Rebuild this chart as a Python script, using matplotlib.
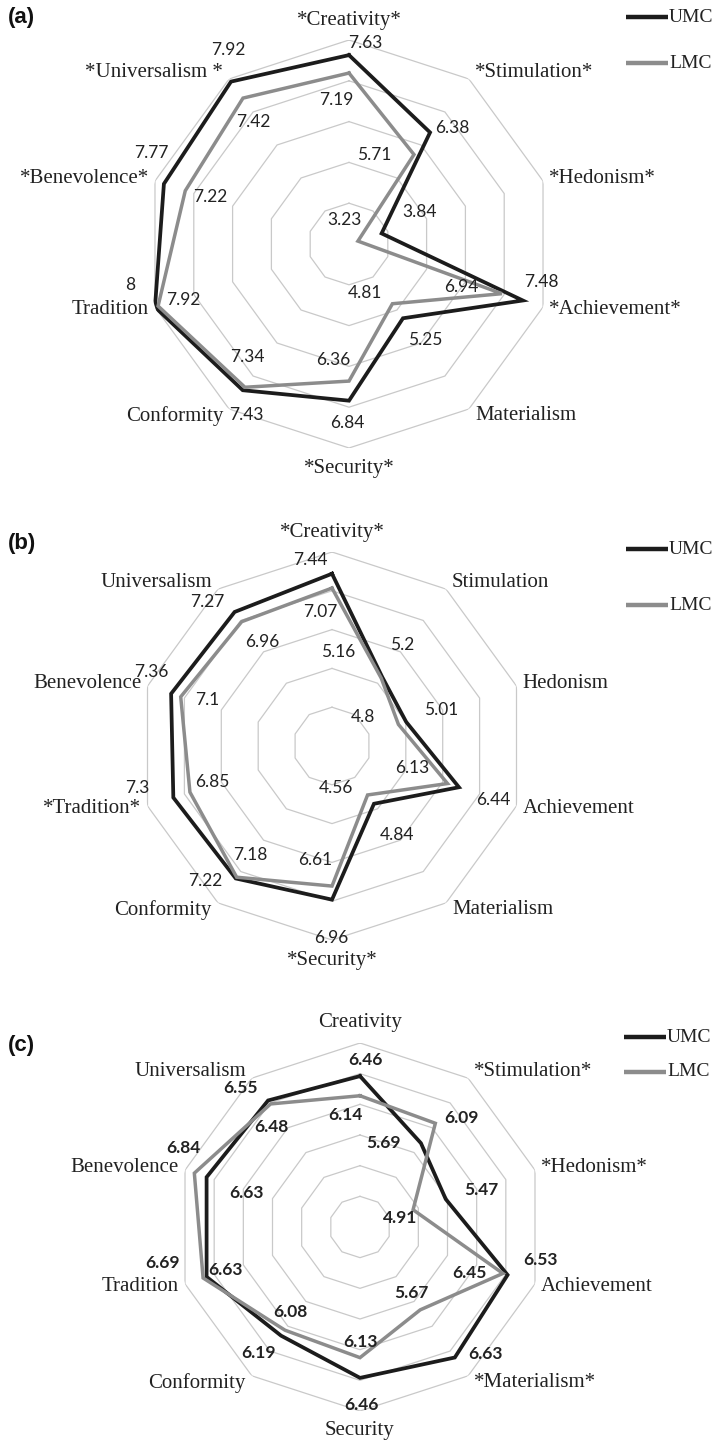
import numpy as np
import matplotlib
matplotlib.use("Agg")
from matplotlib import pyplot as plt
from matplotlib.lines import Line2D

W, H = 716, 1445

LABELS_A = ["*Creativity*", "*Stimulation*", "*Hedonism*", "*Achievement*", "Materialism",
            "*Security*", "Conformity", "Tradition", "*Benevolence*", "*Universalism *"]
UMC_A = [7.63, 6.38, 3.84, 7.48, 5.25, 6.84, 7.43, 8, 7.77, 7.92]
LMC_A = [7.19, 5.71, 3.23, 6.94, 4.81, 6.36, 7.34, 7.92, 7.22, 7.42]

LABELS_B = ["*Creativity*", "Stimulation", "Hedonism", "Achievement", "Materialism",
            "*Security*", "Conformity", "*Tradition*", "Benevolence", "Universalism"]
UMC_B = [7.44, 5.2, 5.01, 6.44, 4.84, 6.96, 7.22, 7.3, 7.36, 7.27]
LMC_B = [7.07, 5.16, 4.8, 6.13, 4.56, 6.61, 7.18, 6.85, 7.1, 6.96]

LABELS_C = ["Creativity", "*Stimulation*", "*Hedonism*", "Achievement", "*Materialism*",
            "Security", "Conformity", "Tradition", "Benevolence", "Universalism"]
UMC_C = [6.46, 5.69, 5.47, 6.53, 6.63, 6.46, 6.19, 6.63, 6.63, 6.55]
LMC_C = [6.14, 6.09, 4.91, 6.45, 5.67, 6.13, 6.08, 6.69, 6.84, 6.48]

RINGS_AB = [3, 4, 5, 6, 7, 8]
RINGS_C = [4, 4.5, 5, 5.5, 6, 6.5, 7]

# data-label offsets in image pixels (dx, dy downwards)
UMC_OFF_A = [(16, -12), (22, -4), (38, -21), (19, -18), (22, 22),
             (-2, 22), (4, 25), (-25, -22), (-13, -31), (-3, -32)]
LMC_OFF_A = [(-13, 27), (-40, 0), (-13, -21), (-41, -7), (-27, -11),
             (-16, -21), (2, -30), (25, -6), (25, 6), (10, 24)]
UMC_OFF_B = [(-22, -14), (20, -32), (35, -12), (34, 13), (23, 31),
             (-1, 38), (-31, 3), (-36, -10), (-20, -22), (-27, -10)]
LMC_OFF_B = [(-12, 24), (-43, -26), (-35, -7), (-35, -16), (-32, -7),
             (-17, -26), (14, -22), (22, -10), (27, 3), (21, 20)]
UMC_OFF_C = [(5, -16), (-37, 0), (36, -9), (33, -15), (31, -3),
             (1, 27), (-23, 17), (19, -7), (40, 16), (-28, -12)]
LMC_OFF_C = [(-15, 19), (26, -5), (-13, 8), (-33, 0), (-9, -17),
             (1, -16), (5, -18), (-41, -15), (-11, -25), (1, 23)]

BLACK = "#1c1c1c"
GREY = "#8c8c8c"
RING = "#c9c9c9"
TEXT = "#222222"
SERIF = "Liberation Serif"


def px_axes(cx, cy, r):
    return [(cx - r) / W, 1 - (cy + r) / H, 2 * r / W, 2 * r / H]


def draw_panel(fig, box, labels, umc, lmc, rings, umc_off, lmc_off, bold=False):
    ax = fig.add_axes(box, projection="polar")
    theta = np.linspace(0, 2 * np.pi, len(labels), endpoint=False)
    closed = np.append(theta, theta[0])
    ax.set_theta_offset(np.pi / 2)
    ax.set_theta_direction(-1)
    ax.set_ylim(rings[0], rings[-1])
    ax.set_axis_off()

    for r in rings[1:]:
        ax.plot(closed, [r] * len(closed), color=RING, lw=0.9, zorder=1)
    ax.plot(closed, np.append(umc, umc[0]), color=BLACK, lw=2.7, zorder=2,
            solid_joinstyle="miter")
    ax.plot(closed, np.append(lmc, lmc[0]), color=GREY, lw=2.5, zorder=3,
            solid_joinstyle="miter")

    weight = "bold" if bold else "normal"
    for vals, offs in ((umc, umc_off), (lmc, lmc_off)):
        for t, v, (dx, dy) in zip(theta, vals, offs):
            ax.annotate(f"{v:g}", (t, v), xytext=(dx, -dy), textcoords="offset pixels",
                        ha="center", va="center", fontsize=12.5, family="Lato",
                        weight=weight, color=TEXT, zorder=5)

    for t, name in zip(theta, labels):
        phi = np.pi / 2 - t
        c, s = np.cos(phi), np.sin(phi)
        if abs(c) < 0.1:
            ha, dx, dy = "center", 0, 20 * np.sign(s)
        else:
            ha, dx, dy = ("left" if c > 0 else "right"), 6 * np.sign(c), 8.5 * s
        ax.annotate(name, (t, rings[-1]), xytext=(dx, dy), textcoords="offset pixels",
                    ha=ha, va="center", fontsize=15, family=SERIF, color=TEXT)
    return ax


def legend(fig, x0, x1, y_umc, y_lmc):
    for y, col, name in ((y_umc, BLACK, "UMC"), (y_lmc, GREY, "LMC")):
        fig.add_artist(Line2D([x0 / W, x1 / W], [1 - y / H] * 2, color=col, lw=3.2,
                              solid_capstyle="butt"))
        fig.text((x1 + 1) / W, 1 - y / H, name, ha="left", va="center",
                 fontsize=14, family=SERIF, color=TEXT)


fig = plt.figure(figsize=(W / 100, H / 100), dpi=100)

draw_panel(fig, px_axes(349, 244, 204), LABELS_A, UMC_A, LMC_A, RINGS_AB,
           UMC_OFF_A, LMC_OFF_A)
draw_panel(fig, px_axes(332, 746, 194), LABELS_B, UMC_B, LMC_B, RINGS_AB,
           UMC_OFF_B, LMC_OFF_B)
draw_panel(fig, px_axes(360, 1227, 184), LABELS_C, UMC_C, LMC_C, RINGS_C,
           UMC_OFF_C, LMC_OFF_C, bold=True)

for letter, y in (("(a)", 17), ("(b)", 543), ("(c)", 1045)):
    fig.text(8 / W, 1 - y / H, letter, ha="left", va="center", fontsize=16,
             weight="bold", family="Liberation Sans", color="#111111")

legend(fig, 626, 668, 17, 63)
legend(fig, 626, 668, 549, 605)
legend(fig, 624, 666, 1037, 1072)

fig.savefig("out.png", dpi=100, facecolor="white")
